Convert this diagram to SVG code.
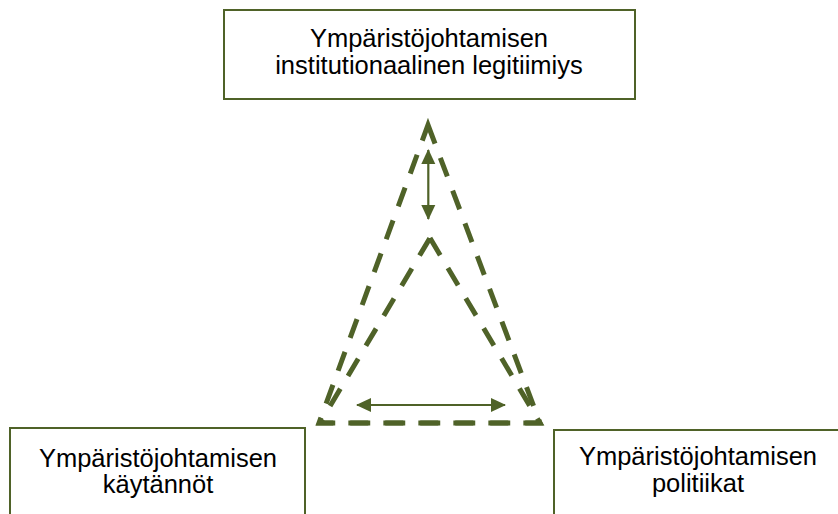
<svg xmlns="http://www.w3.org/2000/svg" width="838" height="514" viewBox="0 0 838 514">
  <style>
    .box { fill: #ffffff; stroke: #4F6228; stroke-width: 2; }
    .lbl { font-family: "Liberation Sans", Arial, sans-serif; font-size: 25.5px; fill: #000000; text-anchor: middle; }
    .tri { fill: none; stroke: #4F6228; stroke-width: 5; stroke-dasharray: 20 15; stroke-linejoin: miter; }
    .arr { fill: none; stroke: #4F6228; stroke-width: 2.2; marker-start: url(#ah); marker-end: url(#ah); }
  </style>
  <defs>
    <marker id="ah" markerUnits="userSpaceOnUse" markerWidth="16" markerHeight="16" viewBox="0 0 16 16" refX="14" refY="8" orient="auto-start-reverse">
      <path d="M0,1 L15,8 L0,15 Z" fill="#4F6228"/>
    </marker>
  </defs>
  <rect width="838" height="514" fill="#ffffff"/>

  <g id="connectors">
    <path class="tri" d="M428,125 L540,423 L319,423 Z"/>
    <path class="tri" d="M430,238 L540,423 L320,423 Z"/>
    <line class="arr" x1="428.3" y1="150" x2="428.3" y2="219"/>
    <line class="arr" x1="357" y1="405" x2="505" y2="405"/>
  </g>

  <g id="node-legitimacy">
    <rect class="box" x="224" y="10" width="411" height="89"/>
    <text class="lbl" x="429" y="46.7">Ympäristöjohtamisen</text>
    <text class="lbl" x="429" y="73.5">institutionaalinen legitiimiys</text>
  </g>

  <g id="node-practices">
    <rect class="box" x="10" y="428" width="295" height="100"/>
    <text class="lbl" x="158" y="466.7">Ympäristöjohtamisen</text>
    <text class="lbl" x="158" y="493.3">käytännöt</text>
  </g>

  <g id="node-policies">
    <rect class="box" x="554" y="430" width="290" height="100"/>
    <text class="lbl" x="698" y="465">Ympäristöjohtamisen</text>
    <text class="lbl" x="698" y="491.5">politiikat</text>
  </g>
</svg>
